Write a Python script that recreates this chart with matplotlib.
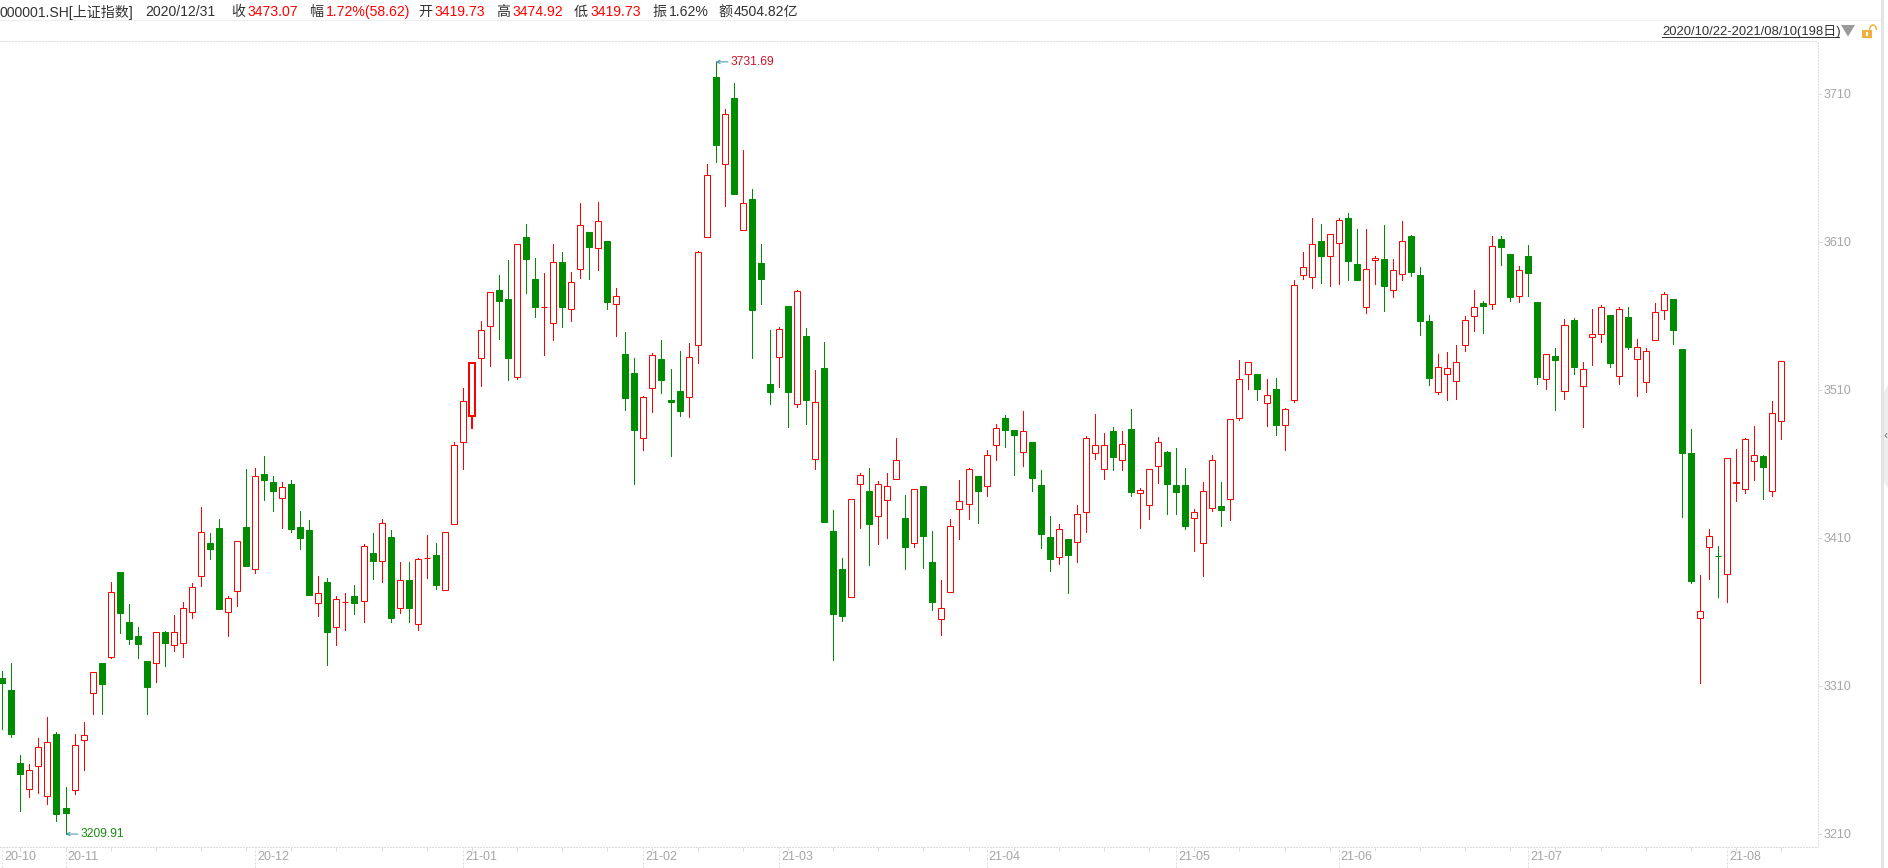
import numpy as np
import matplotlib
matplotlib.use("Agg")
import matplotlib.pyplot as plt
from matplotlib.patches import Rectangle, Polygon, Arc

plt.rcParams["font.family"] = ["Liberation Sans", "Noto Sans CJK SC", "DejaVu Sans"]

# daily candles, 2020/10/22 - 2021/08/10
highs = [
    3320.1, 3325.3, 3263.3, 3257.3, 3274.6, 3289.0, 3278.9, 3241.7, 3277.5, 3285.6,
    3319.2, 3325.5, 3380.2, 3387.0, 3365.4, 3349.8, 3326.9, 3346.3, 3346.9, 3357.9,
    3366.7, 3379.4, 3430.9, 3413.4, 3422.8, 3370.8, 3407.7, 3456.6, 3457.1, 3465.4,
    3451.9, 3447.8, 3449.2, 3428.2, 3422.1, 3384.3, 3382.7, 3370.8, 3372.6, 3378.2,
    3405.9, 3413.4, 3422.8, 3415.4, 3393.8, 3393.8, 3396.5, 3412.0, 3406.6, 3413.8,
    3474.92, 3511.1, 3528.4, 3556.6, 3576.0, 3587.7, 3597.8, 3608.4, 3622.1, 3599.2,
    3588.8, 3608.6, 3603.2, 3589.7, 3636.1, 3616.7, 3636.8, 3610.7, 3578.9, 3549.2,
    3531.6, 3505.9, 3534.8, 3543.8, 3524.2, 3536.3, 3541.5, 3603.7, 3662.7, 3731.69,
    3699.8, 3717.4, 3672.1, 3645.8, 3608.6, 3550.5, 3552.5, 3566.7, 3577.5, 3551.9,
    3523.5, 3542.4, 3428.9, 3396.5, 3436.1, 3453.9, 3457.3, 3448.5, 3453.9, 3477.5,
    3439.0, 3442.9, 3445.1, 3414.7, 3381.6, 3422.8, 3449.2, 3457.3, 3451.9, 3469.4,
    3487.0, 3493.1, 3482.9, 3495.8, 3474.8, 3455.9, 3424.8, 3419.4, 3409.3, 3432.3,
    3478.9, 3493.8, 3480.9, 3485.0, 3482.3, 3497.1, 3443.8, 3456.4, 3478.2, 3468.8,
    3470.8, 3457.3, 3429.4, 3447.8, 3466.1, 3447.8, 3490.2, 3530.2, 3528.7, 3520.8,
    3517.4, 3518.1, 3497.6, 3584.3, 3603.2, 3626.2, 3622.1, 3615.2, 3626.2, 3629.6,
    3618.8, 3618.8, 3600.5, 3621.5, 3598.5, 3624.2, 3614.7, 3593.1, 3560.7, 3534.3,
    3535.7, 3540.4, 3560.0, 3577.5, 3570.1, 3614.0, 3614.0, 3601.9, 3593.8, 3608.0,
    3569.4, 3534.1, 3538.4, 3558.0, 3558.6, 3528.9, 3564.7, 3567.4, 3560.7, 3566.1,
    3566.1, 3544.4, 3538.4, 3568.8, 3576.2, 3571.5, 3537.7, 3483.6, 3385.0, 3416.1,
    3404.6, 3463.8, 3470.1, 3477.3, 3485.7, 3466.1, 3502.5, 3529.4,
]
body_tops = [
    3315.4, 3307.3, 3257.9, 3253.0, 3268.5, 3271.9, 3277.5, 3227.5, 3269.9, 3276.7,
    3319.2, 3325.5, 3373.3, 3387.0, 3353.2, 3343.8, 3326.9, 3346.3, 3346.3, 3346.3,
    3362.5, 3376.7, 3413.8, 3406.6, 3416.7, 3369.2, 3407.7, 3417.4, 3451.7, 3453.2,
    3447.8, 3444.2, 3446.5, 3417.4, 3415.4, 3372.6, 3380.2, 3368.6, 3366.5, 3370.8,
    3404.4, 3399.8, 3419.9, 3410.6, 3381.4, 3381.6, 3395.6, 3396.3, 3398.5, 3413.8,
    3473.07, 3502.3, 3528.4, 3550.3, 3576.0, 3577.5, 3571.5, 3608.4, 3613.4, 3585.0,
    3565.9, 3596.3, 3596.5, 3582.8, 3621.3, 3616.7, 3624.0, 3610.7, 3573.3, 3534.3,
    3521.5, 3505.0, 3533.4, 3530.9, 3503.2, 3509.3, 3532.1, 3603.0, 3655.0, 3721.5,
    3696.3, 3707.3, 3636.1, 3639.0, 3595.8, 3514.0, 3551.0, 3566.7, 3576.7, 3546.5,
    3501.7, 3524.8, 3414.7, 3389.0, 3436.1, 3452.3, 3441.7, 3446.3, 3444.9, 3462.5,
    3423.5, 3442.9, 3445.1, 3393.8, 3362.5, 3417.9, 3434.8, 3456.4, 3451.9, 3465.9,
    3484.1, 3491.1, 3482.9, 3482.1, 3474.8, 3445.8, 3410.6, 3415.9, 3409.3, 3426.0,
    3477.3, 3472.6, 3472.6, 3482.3, 3473.3, 3483.6, 3442.2, 3456.4, 3474.6, 3468.1,
    3445.8, 3445.8, 3427.3, 3441.5, 3462.5, 3431.6, 3490.2, 3517.2, 3528.7, 3520.8,
    3506.4, 3510.7, 3496.9, 3580.7, 3592.9, 3608.4, 3610.7, 3615.2, 3624.6, 3626.2,
    3595.1, 3591.5, 3599.0, 3598.5, 3590.9, 3610.5, 3614.0, 3587.7, 3556.6, 3525.3,
    3524.6, 3528.7, 3557.1, 3565.9, 3568.8, 3607.1, 3612.0, 3601.9, 3590.9, 3600.5,
    3569.4, 3534.1, 3533.0, 3553.7, 3557.3, 3524.0, 3547.6, 3565.9, 3560.7, 3564.5,
    3559.3, 3538.8, 3536.1, 3562.5, 3574.6, 3571.5, 3537.7, 3467.4, 3360.5, 3411.1,
    3397.6, 3463.8, 3447.6, 3476.7, 3465.9, 3465.4, 3494.2, 3529.4,
]
body_bottoms = [
    3312.2, 3277.7, 3250.7, 3240.2, 3255.7, 3235.4, 3223.7, 3224.4, 3239.5, 3273.3,
    3305.0, 3311.5, 3329.4, 3359.5, 3341.9, 3338.6, 3309.5, 3325.3, 3339.2, 3337.5,
    3338.8, 3359.8, 3384.1, 3402.7, 3362.2, 3359.8, 3374.0, 3391.3, 3388.8, 3449.4,
    3441.9, 3436.8, 3416.3, 3410.2, 3371.7, 3365.9, 3346.7, 3349.6, 3366.5, 3366.3,
    3367.2, 3394.6, 3394.2, 3356.1, 3362.5, 3362.9, 3351.7, 3396.3, 3378.4, 3374.6,
    3419.73, 3474.6, 3492.4, 3531.4, 3553.0, 3570.3, 3531.8, 3518.6, 3598.7, 3566.3,
    3565.9, 3555.0, 3566.3, 3564.5, 3591.5, 3606.8, 3605.7, 3569.6, 3567.9, 3504.8,
    3483.2, 3477.3, 3511.1, 3516.9, 3502.1, 3496.0, 3505.0, 3540.2, 3613.2, 3675.7,
    3662.5, 3642.6, 3617.9, 3564.2, 3585.2, 3508.8, 3532.1, 3508.8, 3500.3, 3503.4,
    3463.2, 3421.0, 3358.8, 3357.5, 3369.9, 3446.7, 3419.6, 3424.6, 3435.4, 3449.6,
    3404.1, 3406.4, 3411.5, 3366.9, 3355.0, 3373.3, 3429.4, 3432.7, 3441.9, 3444.9,
    3472.6, 3483.2, 3479.8, 3467.9, 3450.7, 3412.9, 3396.0, 3396.9, 3398.7, 3407.1,
    3427.3, 3467.1, 3456.4, 3464.9, 3462.5, 3441.3, 3440.2, 3432.1, 3458.4, 3446.7,
    3441.3, 3418.3, 3423.3, 3406.4, 3430.0, 3429.1, 3436.1, 3490.9, 3520.6, 3510.9,
    3501.0, 3486.5, 3486.1, 3503.0, 3587.5, 3586.1, 3600.7, 3600.3, 3609.1, 3597.3,
    3584.5, 3565.9, 3597.6, 3580.4, 3577.3, 3588.2, 3589.9, 3556.8, 3518.3, 3508.4,
    3520.6, 3515.9, 3540.2, 3559.8, 3566.9, 3567.9, 3606.8, 3573.0, 3573.3, 3589.2,
    3519.0, 3517.2, 3530.5, 3509.1, 3525.7, 3512.5, 3545.6, 3547.6, 3528.4, 3519.2,
    3539.2, 3530.7, 3515.2, 3543.6, 3563.8, 3550.7, 3467.6, 3381.1, 3355.7, 3403.7,
    3397.6, 3385.5, 3447.0, 3442.9, 3461.8, 3458.2, 3441.5, 3488.8,
]
lows = [
    3281.1, 3275.7, 3225.7, 3235.2, 3237.9, 3230.4, 3219.0, 3209.91, 3237.2, 3253.4,
    3291.3, 3291.3, 3329.1, 3346.0, 3338.6, 3329.1, 3291.3, 3312.9, 3323.7, 3333.8,
    3329.8, 3356.1, 3377.7, 3396.0, 3362.2, 3344.0, 3364.2, 3391.3, 3386.5, 3435.6,
    3428.4, 3416.9, 3414.2, 3402.7, 3371.7, 3357.5, 3324.4, 3337.9, 3348.0, 3358.8,
    3353.4, 3382.5, 3380.4, 3353.4, 3359.5, 3353.4, 3348.0, 3383.2, 3375.7, 3374.6,
    3419.73, 3456.8, 3483.8, 3512.9, 3526.4, 3544.4, 3516.9, 3517.6, 3575.7, 3559.5,
    3533.8, 3544.0, 3552.7, 3556.8, 3585.9, 3585.2, 3591.3, 3564.9, 3546.7, 3496.7,
    3446.7, 3469.6, 3495.3, 3508.2, 3465.6, 3492.6, 3491.9, 3528.4, 3613.2, 3664.2,
    3634.5, 3642.6, 3617.9, 3531.8, 3568.3, 3500.7, 3512.2, 3485.2, 3498.7, 3487.2,
    3456.8, 3421.0, 3327.7, 3354.1, 3369.9, 3416.9, 3391.9, 3406.1, 3410.2, 3449.6,
    3389.2, 3404.1, 3389.9, 3361.5, 3344.6, 3373.3, 3409.5, 3423.0, 3420.3, 3438.6,
    3462.9, 3471.7, 3452.7, 3458.8, 3441.9, 3403.4, 3387.9, 3392.6, 3373.0, 3394.0,
    3414.2, 3463.6, 3450.0, 3456.1, 3456.1, 3438.6, 3416.9, 3423.0, 3447.3, 3426.4,
    3426.4, 3416.3, 3401.4, 3384.5, 3428.4, 3418.3, 3422.3, 3489.9, 3510.9, 3503.2,
    3485.9, 3479.8, 3469.6, 3502.1, 3585.2, 3579.1, 3582.5, 3580.5, 3581.8, 3584.5,
    3584.5, 3562.2, 3581.8, 3563.6, 3573.0, 3584.5, 3587.2, 3547.3, 3513.6, 3507.5,
    3503.4, 3504.1, 3536.5, 3550.0, 3548.7, 3564.9, 3594.6, 3570.3, 3569.6, 3573.7,
    3514.2, 3510.9, 3496.7, 3504.1, 3521.0, 3485.2, 3527.1, 3542.6, 3525.7, 3514.2,
    3537.9, 3506.1, 3508.8, 3543.6, 3558.2, 3541.3, 3424.4, 3379.8, 3312.2, 3382.5,
    3370.3, 3366.9, 3435.2, 3440.6, 3449.4, 3436.5, 3438.6, 3477.1,
]
# R = closed up, G = closed down
directions = (
    "GGGRRRGGRR" "RGRGGGGRGR" "RRRGGRRGRG" "GRGGGRGRRG" "RGRGRGRRGR"
    "RRRRRGGRGG" "RRGRRGRGRG" "GRRGGGRRRG" "RGRGGGRGRG" "RGGGRRGRRR"
    "GRGGRRRRGR" "RGGRGGGRGR" "RRRGRGRRRG" "GGRRRGRRRG" "RGRRRRGRRG"
    "GRRGRRGGGR" "RRRRGRGGRG" "GRGRGRRRGR" "GRRRRGGGRR" "GRRRRGRR"
)

month_labels = ["20-10", "20-11", "20-12", "21-01", "21-02", "21-03", "21-04", "21-05", "21-06", "21-07", "21-08"]
month_starts = [0, 7, 28, 51, 71, 86, 109, 130, 148, 169, 191]
price_ticks = [3210, 3310, 3410, 3510, 3610, 3710]
selected_day = 52
max_day, max_price = 79, 3731.69
min_day, min_price = 7, 3209.91

W, H = 1888, 868
RED = "#ff0000"
GREEN = "#008c00"
GRID = "#dcdcdc"
px = 0.72  # one pixel in points at dpi 100


def put(x, y, s, color="#333333", size=14, **kw):
    fig.text(x / W, 1 - y / H, s, color=color, fontsize=size * px, va="center", **kw)


fig = plt.figure(figsize=(W / 100, H / 100), dpi=100, facecolor="white")
left, right, top, bottom = 0, 1817.7, 41, 846.5
ax = fig.add_axes([left / W, 1 - bottom / H, (right - left) / W, (bottom - top) / H])
ax.set_xlim(-0.255, 201.04)
ax.set_ylim(3201.5, 3745.8)

x = np.arange(len(highs))
highs = np.array(highs)
lows = np.array(lows)
body_tops = np.array(body_tops)
body_bottoms = np.array(body_bottoms)
up = np.array([d == "R" for d in directions])
colors = np.where(up, RED, GREEN)
lw = np.where(x == selected_day, 2 * px, px)

ax.vlines(x, lows, highs, colors=colors, linewidth=lw, antialiased=False, zorder=2)
ax.bar(x, body_tops - body_bottoms, bottom=body_bottoms, width=0.665,
       color=np.where(up, "white", GREEN), edgecolor=colors, linewidth=lw, zorder=3)

for s in ["top", "bottom", "right"]:
    ax.spines[s].set_color(GRID)
    ax.spines[s].set_linewidth(px)
    ax.spines[s].set_linestyle((0, (1, 2)))
ax.spines["left"].set_visible(False)

ax.yaxis.tick_right()
ax.set_yticks(price_ticks)
ax.set_yticklabels([str(p) for p in price_ticks])
ax.tick_params(axis="y", length=4 * px, width=px, color=GRID, labelcolor="#a6a6a6",
               labelsize=12.5 * px, pad=1)
ax.set_xticks([])

# month marks under the axis
xform = ax.get_xaxis_transform()
ax.vlines(np.arange(2, len(highs), 5), -0.005, 0, transform=xform, colors=GRID,
          linewidth=px, clip_on=False)
ax.vlines(month_starts, -0.027, 0, transform=xform, colors=GRID, linewidth=px,
          linestyles=(0, (2, 2)), clip_on=False)
for day, label in zip(month_starts, month_labels):
    ax.annotate(label, xy=(day, 0), xycoords=xform, xytext=(2, -10), textcoords="offset pixels",
                ha="left", va="center", color="#a6a6a6", fontsize=12.5 * px)

# max / min flags
ax.annotate(f"{max_price:.2f}", xy=(max_day, max_price), xytext=(15 * px, 0), textcoords="offset points",
            ha="left", va="center", color="#d0102a", fontsize=12 * px,
            arrowprops=dict(arrowstyle="->", color="#3f8fa8", lw=px, shrinkA=0, shrinkB=0, mutation_scale=6))
ax.annotate(f"{min_price:.2f}", xy=(min_day, min_price), xytext=(15 * px, 0), textcoords="offset points",
            ha="left", va="center", color="#1a8a10", fontsize=12 * px,
            arrowprops=dict(arrowstyle="->", color="#3f8fa8", lw=px, shrinkA=0, shrinkB=0, mutation_scale=6))

# header row
put(0, 12, "000001.SH[上证指数]")
put(145, 12, "2020/12/31")
for xp, s, col in [
    (231, "收", None), (247, "3473.07", RED), (309, "幅", None), (326, "1.72%(58.62)", RED),
    (418, "开", None), (434.6, "3419.73", RED), (496, "高", None), (512.6, "3474.92", RED),
    (574, "低", None), (590.7, "3419.73", RED), (652, "振", None), (669, "1.62%", "#333333"),
    (718, "额", None), (734, "4504.82亿", "#333333"),
]:
    put(xp, 12, s, color=col or "#333333")
put(1662, 32, "2020/10/22-2021/08/10(198日)", size=13)


def rect(x0, y0, x1, y1, color):
    fig.add_artist(Rectangle((x0 / W, 1 - y1 / H), (x1 - x0) / W, (y1 - y0) / H,
                             transform=fig.transFigure, facecolor=color, edgecolor="none"))


rect(0, 20, 1881, 21, "#eeeeee")
rect(1662, 37, 1840, 38, "#333333")
fig.add_artist(Polygon([(1841 / W, 1 - 25 / H), (1855 / W, 1 - 25 / H), (1848 / W, 1 - 36.5 / H)],
                       transform=fig.transFigure, facecolor="#9a9a9a", edgecolor="none"))
# open lock icon
rect(1862, 30, 1872, 38, "#f0b040")
rect(1866, 32.5, 1868, 35.5, "white")
fig.add_artist(Arc((1873 / W, 1 - 30 / H), 7 / W, 10 / H, theta1=0, theta2=180, color="#f0b040",
                   lw=1.5 * px, transform=fig.transFigure))
# scroll strip on the right edge
rect(1881, 0, 1884, H, "#e4e4e4")
fig.add_artist(Polygon([(1888 / W, 1 - 385 / H), (1884 / W, 1 - 392 / H), (1884 / W, 1 - 482 / H), (1888 / W, 1 - 488 / H)],
                       transform=fig.transFigure, facecolor="#eeeeee", edgecolor="none"))
put(1884, 436, "‹", color="#777777", size=13)

fig.savefig("out.png", dpi=100)
plt.close(fig)
